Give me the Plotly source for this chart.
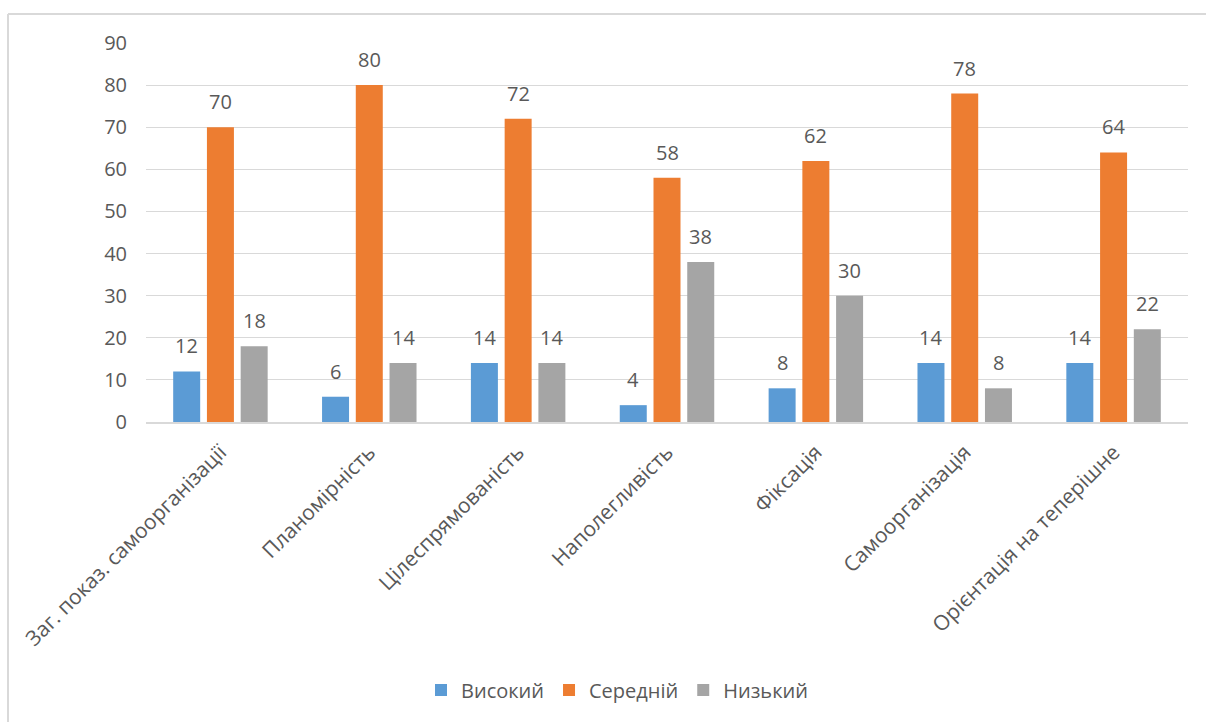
import plotly.graph_objects as go

categories = ["Заг. показ. самоорганізації", "Планомірність", "Цілеспрямованість",
              "Наполегливість", "Фіксація", "Самоорганізація", "Орієнтація на теперішне"]
series_names = ["Високий", "Середній", "Низький"]
high = [12, 6, 14, 4, 8, 14, 14]
mid = [70, 80, 72, 58, 62, 78, 64]
low = [18, 14, 14, 38, 30, 8, 22]
colors = ["#5B9BD5", "#ED7D31", "#A5A5A5"]
y_ticks = [0, 10, 20, 30, 40, 50, 60, 70, 80, 90]

W, H = 1206, 722
ML, MR, MT, MB = 146, 18, 43, 300
BARGAP, GROUPGAP = 0.32, 0.2
FONT = "Open Sans"
TXT = "#595959"

fig = go.Figure()
values = [high, mid, low]
for name, vals, col in zip(series_names, values, colors):
    fig.add_trace(go.Bar(name=name, x=categories, y=vals, marker_color=col,
                         marker_line_width=0))

plot_w = W - ML - MR
slot = plot_w / len(categories) * (1 - BARGAP) / len(values)
annotations = []
for i, vals in enumerate(values):
    for c, v in zip(categories, vals):
        annotations.append(dict(x=c, y=v, xref="x", yref="y", text=str(v),
                                showarrow=False, yanchor="bottom",
                                xshift=(i - 1) * slot, yshift=10,
                                font=dict(family=FONT, size=20, color=TXT)))

plot_h = H - MT - MB
def px_x(p):
    return (p - ML) / plot_w
def px_y(p):
    return (H - MB - p) / plot_h

shapes = [
    dict(type="line", xref="paper", yref="paper", x0=px_x(8), x1=px_x(W), y0=px_y(14), y1=px_y(14),
         line=dict(color="#D9D9D9", width=2)),
    dict(type="line", xref="paper", yref="paper", x0=px_x(8), x1=px_x(8), y0=px_y(14), y1=px_y(H),
         line=dict(color="#D9D9D9", width=2)),
]

fig.update_layout(
    width=W, height=H,
    margin=dict(l=ML, r=MR, t=MT, b=MB),
    paper_bgcolor="white", plot_bgcolor="white",
    barmode="group", bargap=BARGAP, bargroupgap=GROUPGAP,
    font=dict(family=FONT, size=20, color=TXT),
    annotations=annotations, shapes=shapes,
    legend=dict(orientation="h", x=px_x(617), xanchor="center", y=px_y(690), yanchor="middle",
                font=dict(family=FONT, size=20, color=TXT), itemsizing="constant",
                traceorder="normal"),
    xaxis=dict(tickangle=-45, showgrid=False, showline=True, linecolor="#D9D9D9", linewidth=1.5,
               ticks="outside", ticklen=8, tickcolor="rgba(0,0,0,0)",
               tickfont=dict(family=FONT, size=21, color=TXT)),
    yaxis=dict(range=[0, 90], tickvals=y_ticks, showgrid=True, gridcolor="#D9D9D9", gridwidth=1.3,
               zeroline=False, showline=False, ticklabelstandoff=18,
               tickfont=dict(family=FONT, size=20, color=TXT)),
    showlegend=True,
)

fig.write_html("out.html")
